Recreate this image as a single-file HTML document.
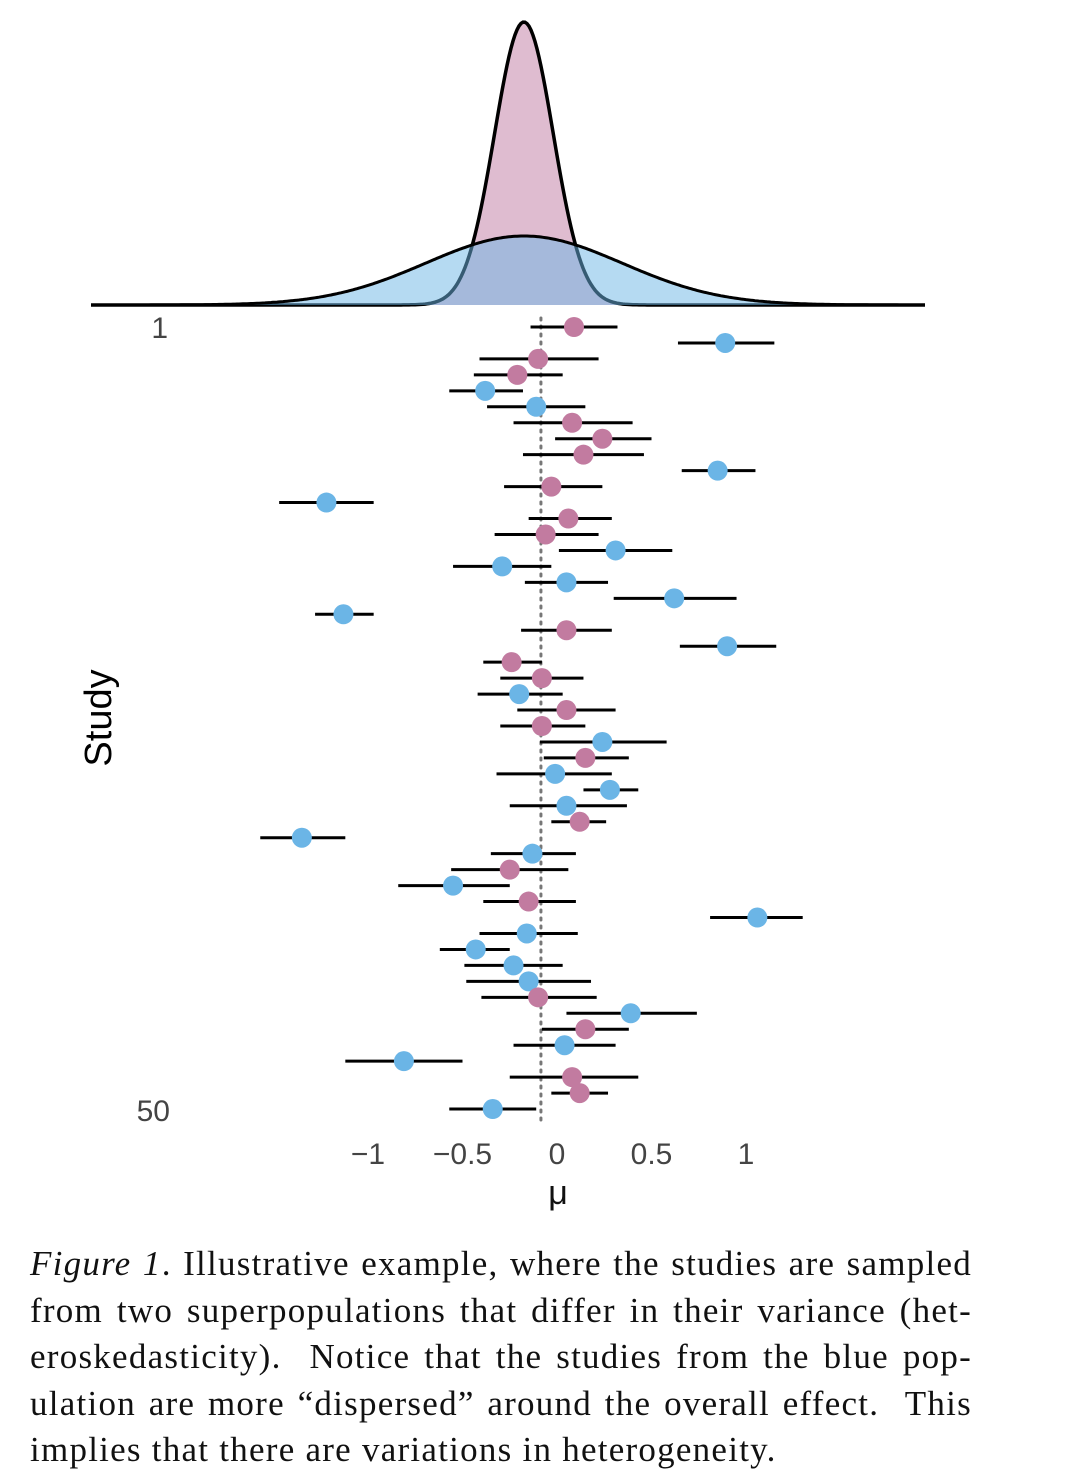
<!DOCTYPE html>
<html><head><meta charset="utf-8"><style>
body{margin:0;background:#fff;width:1078px;height:1484px;overflow:hidden;position:relative}
svg{position:absolute;left:0;top:0}
#cap{position:absolute;left:30px;top:1241px;width:942px;font-family:"Liberation Serif",serif;font-size:35px;letter-spacing:1.25px;line-height:46.6px;color:#111}
#cap div{text-align:justify;text-align-last:justify;white-space:nowrap}
#cap div.last{text-align-last:left}
</style></head><body>
<svg id="chart" width="1078" height="1240" font-family="Liberation Sans, sans-serif"></svg>
<div id="cap">
<div><i>Figure 1</i>. Illustrative example, where the studies are sampled</div>
<div>from two superpopulations that differ in their variance (het-</div>
<div>eroskedasticity). &nbsp;Notice that the studies from the blue pop-</div>
<div>ulation are more “dispersed” around the overall effect. &nbsp;This</div>
<div class="last">implies that there are variations in heterogeneity.</div>
</div>
<script>
const groups=["p","b","p","p","b","b","p","p","p","b","p","b","p","p","b","b","b","b","b","p","b","p","p","b","p","p","b","p","b","b","b","p","b","b","p","b","p","b","b","b","b","b","p","b","p","b","b","p","p","b"];
const est=[0.09,0.89,-0.10,-0.21,-0.38,-0.11,0.08,0.24,0.14,0.85,-0.03,-1.22,0.06,-0.06,0.31,-0.29,0.05,0.62,-1.13,0.05,0.90,-0.24,-0.08,-0.20,0.05,-0.08,0.24,0.15,-0.01,0.28,0.05,0.12,-1.35,-0.13,-0.25,-0.55,-0.15,1.06,-0.16,-0.43,-0.23,-0.15,-0.10,0.39,0.15,0.04,-0.81,0.08,0.12,-0.34];
const lo=[-0.14,0.64,-0.41,-0.44,-0.57,-0.37,-0.23,-0.01,-0.18,0.66,-0.28,-1.47,-0.15,-0.33,0.01,-0.55,-0.17,0.30,-1.28,-0.19,0.65,-0.39,-0.30,-0.42,-0.21,-0.30,-0.09,-0.07,-0.32,0.14,-0.25,-0.03,-1.57,-0.35,-0.56,-0.84,-0.39,0.81,-0.41,-0.62,-0.49,-0.48,-0.40,0.05,-0.08,-0.23,-1.12,-0.25,-0.03,-0.57];
const hi=[0.32,1.15,0.22,0.03,-0.18,0.15,0.40,0.50,0.46,1.05,0.24,-0.97,0.29,0.22,0.61,-0.03,0.27,0.95,-0.97,0.29,1.16,-0.08,0.14,0.03,0.31,0.15,0.58,0.38,0.29,0.43,0.37,0.26,-1.12,0.10,0.06,-0.25,0.10,1.30,0.11,-0.25,0.03,0.18,0.21,0.74,0.38,0.31,-0.50,0.43,0.27,-0.11];
const xTicks=[-1,-0.5,0,0.5,1];
const xTickLabels=["−1","−0.5","0","0.5","1"];
const overallMu=-0.085;
const densMean=[-0.175,-0.175];
const densSd=[0.155,0.52];
const densPeak=[283,69];
const NS="http://www.w3.org/2000/svg";
const svg=document.getElementById('chart');
const X=v=>557+v*189;
const Y=i=>327+i*15.96;
function mk(t,a){const e=document.createElementNS(NS,t);for(const k in a)e.setAttribute(k,a[k]);svg.appendChild(e);return e;}
const base=305;
function densPath(k,close){const m=densMean[k],s=densSd[k];let d="";for(let px=91;px<=925;px+=2){const v=(px-557)/189;const h=densPeak[k]*Math.exp(-0.5*((v-m)/s)**2);d+=(d?"L":"M")+px+","+(base-h).toFixed(1);}return close?d+"L925,"+base+"L91,"+base+"Z":d;}
let e=mk('path',{d:densPath(0,true),fill:'#dfbcd0',stroke:'none'});

e=mk('path',{d:densPath(0,false),fill:'none',stroke:'#000','stroke-width':3.5});

e=mk('path',{d:densPath(1,true),fill:'#6bb5e6','fill-opacity':0.5,stroke:'none'});

e=mk('path',{d:densPath(1,false),fill:'none',stroke:'#000','stroke-width':3});

e=mk('line',{x1:X(overallMu),x2:X(overallMu),y1:318,y2:1120,stroke:'#777','stroke-width':3,'stroke-dasharray':'2 6','stroke-linecap':'round'});

for(let i=0;i<est.length;i++){
 e=mk('line',{x1:X(lo[i]),x2:X(hi[i]),y1:Y(i),y2:Y(i),stroke:'#000','stroke-width':3});
 
}
for(let i=0;i<est.length;i++){
 e=mk('circle',{cx:X(est[i]),cy:Y(i),r:10,fill:groups[i]=='p'?'#c27ba0':'#6bb5e6'});
 
}
xTicks.forEach((t,k)=>{e=mk('text',{x:X(t),y:1164,'font-size':30,fill:'#444','text-anchor':'middle'});e.textContent=xTickLabels[k];
 });
e=mk('text',{x:558,y:1204,'font-size':34,fill:'#111','text-anchor':'middle'});e.textContent='μ';

e=mk('text',{x:168,y:338,'font-size':30,fill:'#444','text-anchor':'end'});e.textContent='1';

e=mk('text',{x:170,y:1121,'font-size':30,fill:'#444','text-anchor':'end'});e.textContent='50';

e=mk('text',{x:0,y:0,'font-size':38,fill:'#000','text-anchor':'middle',transform:'translate(111,718) rotate(-90)'});e.textContent='Study';

</script>
</body></html>
